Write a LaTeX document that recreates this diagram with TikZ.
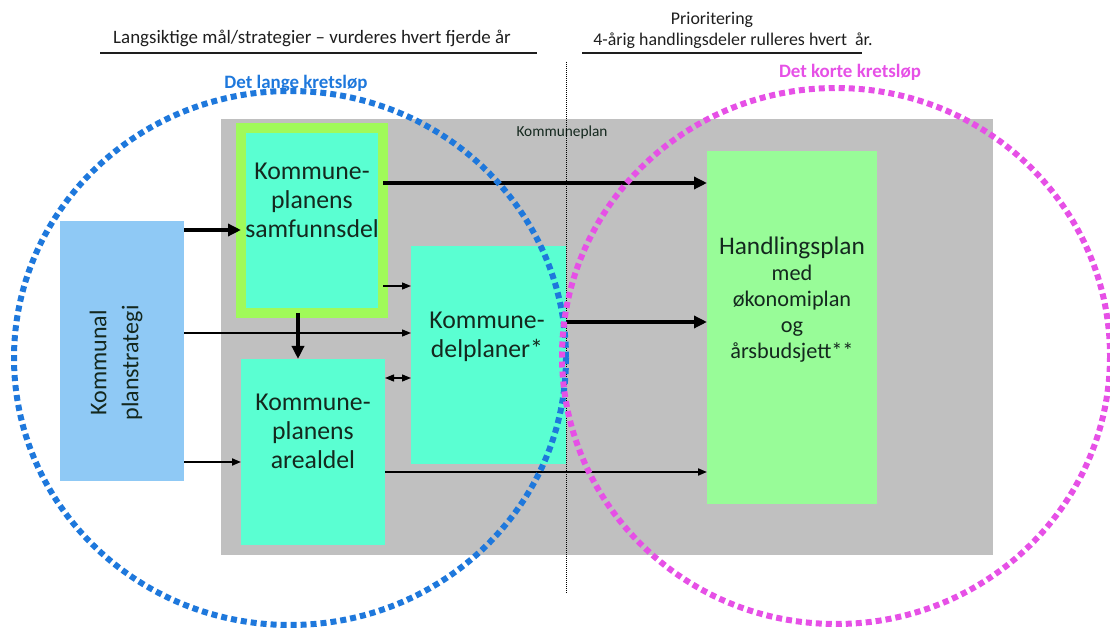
\documentclass[tikz,border=0pt]{standalone}
\usepackage{fontspec}
\setmainfont{Carlito}
\usetikzlibrary{arrows.meta}

\definecolor{grayback}{RGB}{192,192,192}
\definecolor{aqua}{RGB}{90,255,210}
\definecolor{limeframe}{RGB}{160,250,90}
\definecolor{mint}{RGB}{152,252,152}
\definecolor{skyblue}{RGB}{143,201,245}
\definecolor{longblue}{RGB}{30,120,220}
\definecolor{shortpink}{RGB}{230,80,230}
\definecolor{inktext}{RGB}{20,40,30}

\tikzset{every picture/.style={line width=0.75pt}}

\begin{document}
\begin{tikzpicture}[x=0.75pt,y=0.75pt,yscale=-1,xscale=1,
  plan/.style={inner sep=0pt,outer sep=0pt},
  boxtext/.style={inner sep=0.75pt,align=center,text=inktext,font=\fontsize{19.3}{21.75}\selectfont},
  headtext/.style={inner sep=0.75pt,align=center,text={rgb,255:red,30;green,30;blue,30},font=\fontsize{14.2}{16}\selectfont},
  thickarrow/.style={line width=3pt,-{Triangle[length=9.75pt,width=9pt]}},
  thinarrow/.style={line width=1pt,-{Triangle[length=6.75pt,width=5.25pt]}},
  ring/.style={line width=4.5pt,dash pattern=on 4.5pt off 3pt}
]
\useasboundingbox (0,0) rectangle (1110,630);

% Text Node
\draw (312,38) node [headtext] (longterm) {Langsiktige mål/strategier – vurderes hvert fjerde år};
% Text Node
\draw (712,20) node [headtext,font=\fontsize{13.4}{15}\selectfont] (prio) {Prioritering};
% Text Node
\draw (733,41) node [headtext,font=\fontsize{13.4}{15}\selectfont] (rolling) {4-årig handlingsdeler rulleres hvert~ år.};
%Straight Lines
\draw [line width=1.5pt,color={rgb,255:red,30;green,30;blue,30}] (100,53) -- (537,53) ;
\draw [line width=1.5pt,color={rgb,255:red,30;green,30;blue,30}] (582,53) -- (862,53) ;

%Shape: Rectangle
\node [plan,fill=grayback,minimum width=579pt,minimum height=327pt] (kplan) at (607,337) {};
% Text Node
\draw (562,132) node [inner sep=0.75pt,text=inktext,font=\fontsize{11.5}{13}\selectfont] (kplanlbl) {Kommuneplan};

%Shape: Rectangle
\node [plan,fill=skyblue,minimum width=93pt,minimum height=195pt] (strat) at (122,351) {};
%Shape: Rectangle
\node [plan,fill=aqua,draw=limeframe,line width=7.5pt,minimum width=106.5pt,minimum height=138.75pt] (samf) at (312,220.5) {};
%Shape: Rectangle
\node [plan,fill=aqua,minimum width=108pt,minimum height=139.5pt] (areal) at (313,452) {};
%Shape: Rectangle
\node [plan,fill=aqua,minimum width=116.25pt,minimum height=163.5pt] (delpl) at (488.5,355) {};
%Shape: Rectangle
\node [plan,fill=mint,minimum width=127.5pt,minimum height=264.75pt] (handl) at (792,327.5) {};

% Text Node
\draw (116,363) node [boxtext,rotate=90,font=\fontsize{18}{24}\selectfont] (strattext) {Kommunal\\planstrategi};
% Text Node
\draw (312,200) node [boxtext] (samftext) {Kommune-\\planens\\samfunnsdel};
% Text Node
\draw (313,431) node [boxtext] (arealtext) {Kommune-\\planens\\arealdel};
% Text Node
\draw (487,337) node [boxtext] (delpltext) {Kommune-\\delplaner*};
% Text Node
\draw (792,300) node [boxtext,font=\fontsize{16.7}{19.5}\selectfont] (handltext) {{\fontsize{19}{19.5}\selectfont Handlingsplan}\\med\\økonomiplan\\og\\årsbudsjett**};

%Straight Lines
\draw [thickarrow] (strat.east |- 0,230) -- (samf.west |- 0,230) ;
\draw [thinarrow] (strat.east |- 0,333) -- (delpl.west |- 0,333) ;
\draw [thinarrow,line width=1.4pt] (strat.east |- 0,462) -- (areal.west |- 0,462) ;
\draw [thickarrow] (samf.east |- 0,183) -- (handl.west |- 0,183) ;
\draw [thinarrow] (samf.east |- 0,286) -- (delpl.west |- 0,286) ;
\draw [thickarrow] (298,0 |- samf.south) -- (298,0 |- areal.north) ;
\draw [thinarrow,{Triangle[length=6.75pt,width=5.25pt]}-{Triangle[length=6.75pt,width=5.25pt]}] (areal.east |- 0,378) -- (delpl.west |- 0,378) ;
\draw [thickarrow] (delpl.east |- 0,322) -- (handl.west |- 0,322) ;
\draw [thinarrow,line width=1.4pt] (areal.east |- 0,472) -- (handl.west |- 0,472) ;

%Straight Lines
\draw [line width=0.75pt,dash pattern=on 0.75pt off 0.75pt] (566,62) -- (566,593) ;

%Shape: Ellipse
\draw [ring,draw=longblue] (290,358) ellipse [x radius=276,y radius=267] ;
%Shape: Ellipse
\draw [ring,draw=shortpink] (836,356) ellipse [x radius=274,y radius=268] ;

% Text Node
\draw (296,83) node [inner sep=0.75pt,text=longblue,font=\bfseries\fontsize{14.2}{16}\selectfont] (longlbl) {Det lange kretsløp};
% Text Node
\draw (850,72) node [inner sep=0.75pt,text=shortpink,font=\bfseries\fontsize{14.2}{16}\selectfont] (shortlbl) {Det korte kretsløp};

\end{tikzpicture}
\end{document}
